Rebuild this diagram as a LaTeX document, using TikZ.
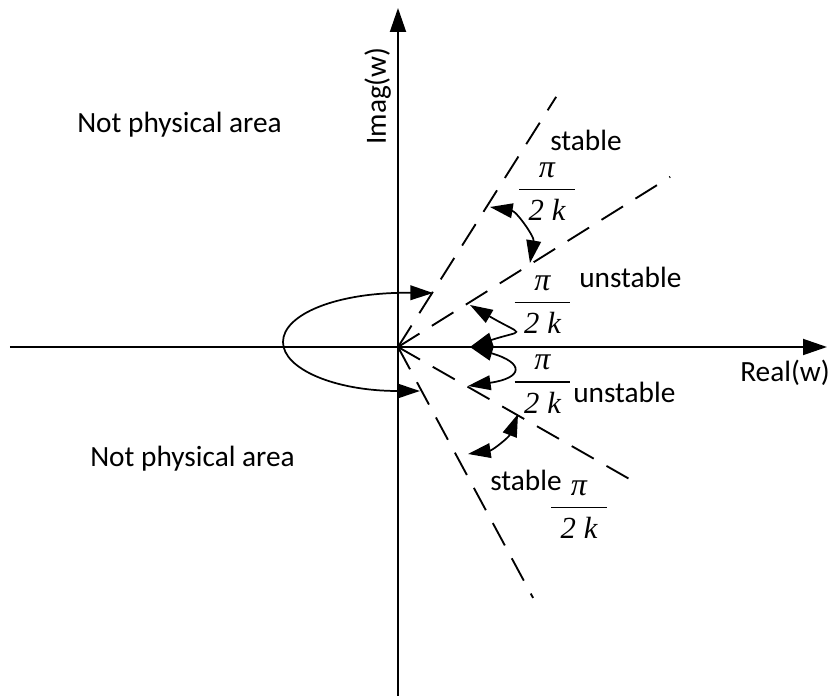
\documentclass[tikz,border=0pt]{standalone}
\usepackage{fontspec}
\setmainfont{Carlito}
\newfontfamily\fracfont{Liberation Serif}
\usetikzlibrary{arrows.meta,calc,positioning}

\newcommand{\piovertwok}{$\displaystyle{\hbox{\fontsize{24}{24}\fracfont\itshape\lower1.5pt\hbox{π}}\above 1.3pt\hbox{\fracfont\itshape\vrule width0pt height15.5pt\kern7pt 2\kern6pt k\kern7pt}}$}

\begin{document}
\begin{tikzpicture}[x=0.75pt,y=0.75pt,>={Triangle[length=17pt,width=11pt]},
  axis/.style={line width=1.4pt,-{Triangle[length=18pt,width=12pt]}},
  ray/.style={line width=1.4pt,dash pattern=on 19pt off 11pt},
  turn/.style={line width=1.3pt,<->},
  lbl/.style={font=\fontsize{22}{26}\selectfont,inner sep=0pt,anchor=base west},
  frac/.style={font=\fontsize{23}{25}\selectfont,inner sep=0pt,anchor=base}]
  \useasboundingbox (-398,-349) rectangle (431,347);
  % axes
  \coordinate (O) at (0,0);
  \coordinate (west) at (-388,0);
  \coordinate (east) at (429,0);
  \coordinate (south) at (0,-349);
  \coordinate (north) at (0,339);
  \draw[axis] (west)--(east);
  \draw[axis] (south)--(north);
  % dashed rays
  \coordinate (r1) at (57.7:296);
  \coordinate (r2) at (32:321);
  \coordinate (r3) at (-29.7:273);
  \coordinate (r4) at (-61.7:285);
  \foreach \r in {r1,r2,r3,r4}
    \draw[ray] (O)--(\r);
  % arrow ends
  \coordinate (s1) at (92,140);
  \coordinate (s2) at (132,84);
  \coordinate (u1) at (72,42);
  \coordinate (u2) at (72,0);
  \coordinate (u3) at (70,-39);
  \coordinate (s3) at (120,-67);
  \coordinate (s4) at (70,-107);
  \coordinate (loopU) at (35,54);
  \coordinate (loopL) at (22,-44);
  \draw[turn] (s1) to[bend left=45] (s2);
  \draw[turn] (u1) .. controls (127,10) and (127,18) .. (u2);
  \draw[turn] (u2) .. controls (127,-16) and (125,-31) .. (u3);
  \draw[turn] (s3) to[bend left=30] (s4);
  \draw[turn] (loopU) .. controls (-63,55) and (-115,32) .. (-115,5)
    .. controls (-115,-22) and (-63,-44) .. (loopL);
  % labels
  \node[lbl] (npU) at (-321,214) {Not physical area};
  \node[lbl] (npL) at (-308,-120) {Not physical area};
  \node[lbl] (re) at (342,-35) {Real(w)};
  \node[lbl,rotate=90] (im) at (-12,202) {Imag(w)};
  \node[lbl] (stU) at (152,196) {stable};
  \node[lbl] (unU) at (181,59) {unstable};
  \node[lbl] (unL) at (175,-56) {unstable};
  \node[lbl] (stL) at (92,-143) {stable};
  \node[frac] (f1) at (149,149.3) {\piovertwok};
  \node[frac] (f2) at (144.5,36.3) {\piovertwok};
  \node[frac] (f3) at (144.5,-43.4) {\piovertwok};
  \node[frac] (f4) at (181,-168.7) {\piovertwok};
\end{tikzpicture}
\end{document}
